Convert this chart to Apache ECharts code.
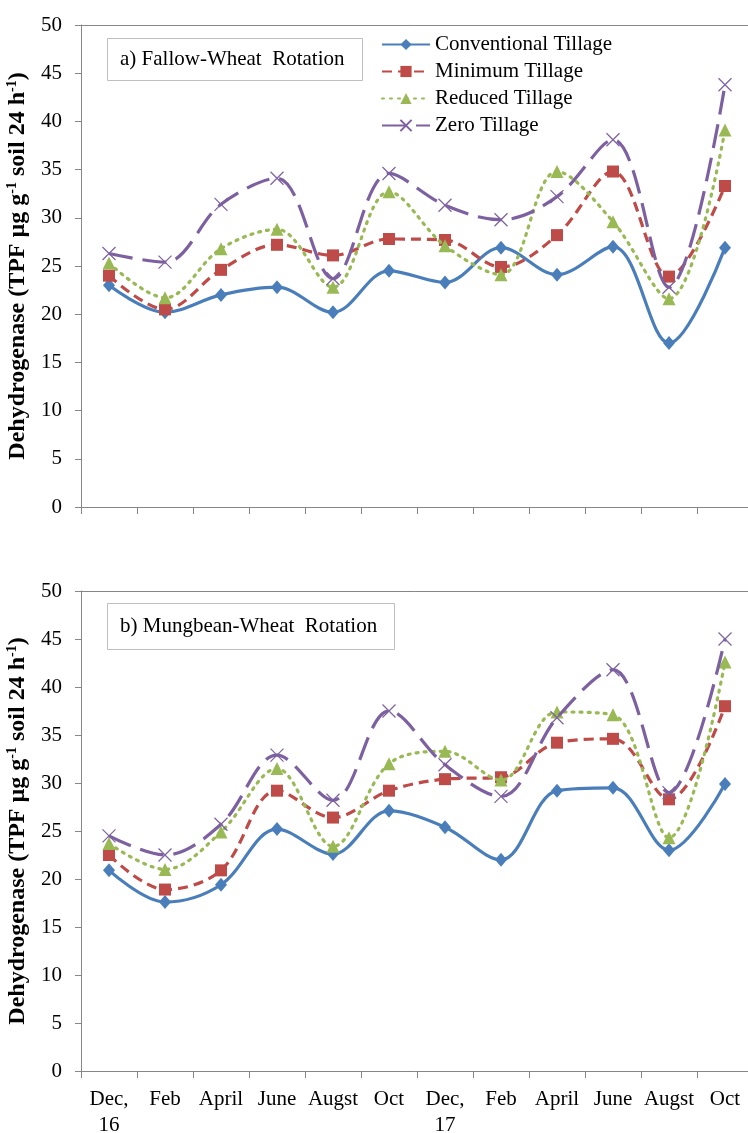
<!DOCTYPE html>
<html><head><meta charset="utf-8">
<script src="https://cdn.jsdelivr.net/npm/echarts@6/dist/echarts.min.js"></script>
<style>html,body{margin:0;padding:0;background:#fff;overflow:hidden}#c{width:748px;height:1133px}</style>
</head><body><div id="c"></div>
<script>
var categories = ['Dec,\n16','Feb','April','June','Augst','Oct','Dec,\n17','Feb','April','June','Augst','Oct'];
var seriesNames = ['Conventional Tillage','Minimum Tillage','Reduced Tillage','Zero Tillage'];
var yTicks = [0,5,10,15,20,25,30,35,40,45,50];
// a) Fallow-Wheat Rotation
var fwConventional = [23.0,20.2,22.0,22.8,20.2,24.5,23.3,26.9,24.1,27.0,17.0,26.9];
var fwMinimum      = [24.0,20.5,24.6,27.2,26.1,27.8,27.7,24.9,28.2,34.8,23.9,33.3];
var fwReduced      = [25.3,21.7,26.8,28.8,22.8,32.7,27.1,24.1,34.8,29.6,21.6,39.1];
var fwZero         = [26.3,25.4,31.4,34.1,23.7,34.6,31.3,29.8,32.2,38.1,22.8,43.8];
// b) Mungbean-Wheat Rotation
var mwConventional = [20.9,17.6,19.4,25.2,22.6,27.1,25.4,22.0,29.2,29.5,23.0,29.9];
var mwMinimum      = [22.5,18.9,20.9,29.2,26.4,29.2,30.4,30.6,34.2,34.6,28.3,38.0];
var mwReduced      = [23.7,21.0,24.9,31.5,23.4,32.0,33.3,30.3,37.4,37.1,24.3,42.6];
var mwZero         = [24.5,22.5,25.7,32.9,28.2,37.5,31.9,28.6,36.8,41.8,29.0,45.0];

var colors = ['#4A7EBB','#BE4B48','#98B954','#7D60A0'];
var symbols = ['diamond','rect','triangle','path://M0,0L10,10M10,0L0,10'];
var symSizes = [[12,14],12,13,13];
var lineTypes = ['solid',[10,6],[2,6],[24,10]];
var serif = '"Liberation Serif","DejaVu Serif",serif';

function mkSeries(name, data, i, g) {
  var isX = i === 3;
  return {
    name: name, type: 'line', xAxisIndex: g, yAxisIndex: g, data: data,
    smooth: 0.35, symbol: symbols[i], symbolSize: symSizes[i],
    lineStyle: {color: colors[i], width: 3.2, type: lineTypes[i], cap: i===2 ? 'round' : 'butt'},
    itemStyle: isX ? {color: 'rgba(0,0,0,0)', borderColor: colors[i], borderWidth: 1.2}
                   : {color: colors[i], borderWidth: 0},
    emphasis: {disabled: true}, animation: false, z: 3 + i
  };
}

var nameRich = {
  b: {fontFamily: serif, fontSize: 24, fontWeight: 'bold', color: '#000', lineHeight: 26},
  s: {fontFamily: serif, fontSize: 14, fontWeight: 'bold', color: '#000', lineHeight: 26, verticalAlign: 'top'}
};
var yName = '{b|Dehydrogenase (TPF µg g}{s|-1}{b| soil 24 h}{s|-1}{b|)}';

function mkY(g) {
  return {
    type: 'value', gridIndex: g, min: 0, max: 50, interval: 5,
    name: yName, nameLocation: 'middle', nameGap: 41, nameRotate: 90,
    nameTextStyle: {rich: nameRich},
    axisLine: {show: true, lineStyle: {color: '#868686', width: 1}},
    axisTick: {show: true, length: 6, lineStyle: {color: '#868686'}},
    axisLabel: {fontFamily: serif, fontSize: 21, color: '#000', margin: 19,
      formatter: function(v){ return yTicks.indexOf(v) >= 0 ? String(v) : ''; }},
    splitLine: {show: false}
  };
}
function mkX(g, showLabel) {
  return {
    type: 'category', gridIndex: g, data: categories, boundaryGap: true,
    axisLine: {show: true, lineStyle: {color: '#868686', width: 1}},
    axisTick: {show: true, length: 7, interval: 0, lineStyle: {color: '#868686'}},
    axisLabel: {show: showLabel, interval: 0, fontFamily: serif, fontSize: 21, color: '#000', margin: 15, lineHeight: 26},
    splitLine: {show: false}
  };
}
function mkTop(g) {
  return {
    type: 'category', gridIndex: g, position: 'top', data: categories,
    axisLine: {show: true, lineStyle: {color: '#868686', width: 1}},
    axisTick: {show: false}, axisLabel: {show: false}, splitLine: {show: false}
  };
}

var titleStyle = {fontFamily: serif, fontSize: 21, fontWeight: 'normal', color: '#000'};
var option = {
  backgroundColor: '#fff',
  animation: false,
  title: [
    {text: 'a) Fallow-Wheat  Rotation', left: 107, top: 38, padding: [11, 18, 11, 13],
     borderColor: '#bfbfbf', borderWidth: 1, textStyle: titleStyle},
    {text: 'b) Mungbean-Wheat  Rotation', left: 107, top: 603, padding: [13, 18, 13, 13],
     borderColor: '#bfbfbf', borderWidth: 1, textStyle: titleStyle}
  ],
  legend: {
    data: seriesNames, orient: 'vertical', left: 376, top: 29, padding: 5,
    itemWidth: 48, itemHeight: 14, itemGap: 6,
    textStyle: {fontFamily: serif, fontSize: 21, color: '#000'},
    selectedMode: false
  },
  grid: [
    {left: 81, top: 25, width: 672, height: 482, containLabel: false, outerBoundsMode: 'none'},
    {left: 81, top: 591, width: 672, height: 480, containLabel: false, outerBoundsMode: 'none'}
  ],
  xAxis: [mkX(0, false), mkX(1, true), mkTop(0), mkTop(1)],
  yAxis: [mkY(0), mkY(1)],
  series: [
    mkSeries(seriesNames[0], fwConventional, 0, 0),
    mkSeries(seriesNames[1], fwMinimum, 1, 0),
    mkSeries(seriesNames[2], fwReduced, 2, 0),
    mkSeries(seriesNames[3], fwZero, 3, 0),
    mkSeries(seriesNames[0], mwConventional, 0, 1),
    mkSeries(seriesNames[1], mwMinimum, 1, 1),
    mkSeries(seriesNames[2], mwReduced, 2, 1),
    mkSeries(seriesNames[3], mwZero, 3, 1)
  ]
};
var chart = echarts.init(document.getElementById('c'), null, {renderer: 'canvas'});
chart.setOption(option);
</script></body></html>
